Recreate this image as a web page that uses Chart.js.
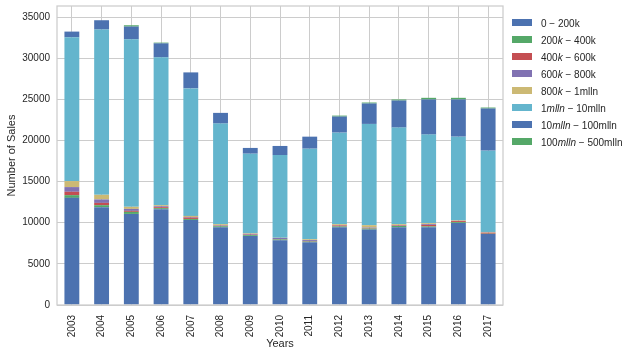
<!DOCTYPE html>
<html>
<head>
<meta charset="utf-8">
<script src="https://cdn.jsdelivr.net/npm/chart.js@4/dist/chart.umd.min.js"></script>
<style>
  html, body { margin: 0; padding: 0; background: #ffffff; }
  #wrap { position: relative; width: 640px; height: 356px; }
  #legend { position: absolute; left: 512px; top: 14px; font-family: "Liberation Sans", Arial, sans-serif; font-size: 10px; color: #262626; }
  .row { height: 17.06px; line-height: 17.06px; white-space: nowrap; position: relative; }
  .sw { position: absolute; left: 0; top: 4.5px; width: 20px; height: 7px; }
  .lt { position: absolute; left: 29px; top: 0.5px; }
</style>
</head>
<body>
<div id="wrap">
  <canvas id="c" width="640" height="356"></canvas>
  <div id="legend"></div>
</div>
<script>
const years = ["2003","2004","2005","2006","2007","2008","2009","2010","2011","2012","2013","2014","2015","2016","2017"];
const seriesNames = ["0 − 200k","200k − 400k","400k − 600k","600k − 800k","800k − 1mlln","1mlln − 10mlln","10mlln − 100mlln","100mlln − 500mlln"];
const s0to200k      = [13020, 11890, 11070, 11650, 10340, 9450, 8390, 7870, 7620, 9450, 9170, 9450, 9450, 9980, 8630];
const s200kto400k   = [330, 240, 250, 120, 120, 120, 100, 100, 90, 100, 120, 150, 100, 100, 30];
const s400kto600k   = [410, 280, 120, 120, 160, 60, 60, 40, 60, 120, 60, 60, 180, 120, 120];
const s600kto800k   = [570, 420, 240, 110, 80, 60, 100, 140, 120, 40, 60, 60, 100, 30, 30];
const s800kto1m     = [730, 560, 250, 130, 130, 130, 70, 20, 100, 110, 290, 100, 110, 70, 70];
const s1mto10m      = [17480, 20090, 20360, 17970, 15490, 12230, 9670, 10060, 11010, 11130, 12310, 11740, 10770, 10160, 9880];
const s10mto100m    = [690, 1130, 1550, 1700, 1950, 1300, 700, 1100, 1460, 1950, 2480, 3290, 4270, 4520, 5120];
const s100mto500m   = [0, 0, 160, 90, 0, 0, 0, 0, 0, 120, 120, 130, 200, 200, 120];
const yTicks = [0, 5000, 10000, 15000, 20000, 25000, 30000, 35000];

const allSeries = [s0to200k, s200kto400k, s400kto600k, s600kto800k, s800kto1m, s1mto10m, s10mto100m, s100mto500m];
const colors = ["#4C72B0","#55A868","#C44E52","#8172B2","#CCB974","#64B5CD","#4C72B0","#55A868"];

const datasets = allSeries.map((d, i) => ({
  label: seriesNames[i],
  data: d,
  backgroundColor: colors[i],
  borderWidth: 0,
  barPercentage: 0.5,
  categoryPercentage: 1.0
}));

const FONT = "'Liberation Sans', Arial, sans-serif";
const frame = {
  id: 'frame',
  afterDraw(chart) {
    const a = chart.chartArea, ctx = chart.ctx;
    ctx.save();
    ctx.strokeStyle = '#cccccc';
    ctx.lineWidth = 1.25;
    ctx.strokeRect(a.left, a.top, a.right - a.left, a.bottom - a.top);
    ctx.restore();
  }
};

new Chart(document.getElementById('c'), {
  type: 'bar',
  data: { labels: years, datasets },
  options: {
    responsive: false,
    devicePixelRatio: 1,
    animation: false,
    layout: { padding: { top: 6, right: 137, left: 0, bottom: 0 } },
    plugins: { legend: { display: false }, tooltip: { enabled: false } },
    scales: {
      x: {
        stacked: true,
        offset: true,
        grid: { offset: false, color: '#cccccc', lineWidth: 1, drawTicks: false },
        border: { display: false },
        ticks: { maxRotation: 90, minRotation: 90, padding: 10, color: '#262626', font: { family: FONT, size: 10 } },
        title: { display: true, text: 'Years', color: '#262626', font: { family: FONT, size: 11 }, padding: { top: 0, bottom: 5 } },
        afterFit(s) { s.height = 51; s.paddingLeft = 0; s.paddingRight = 0; }
      },
      y: {
        stacked: true,
        min: 0,
        max: 36340,
        grid: { color: '#cccccc', lineWidth: 1, drawTicks: false },
        border: { display: false },
        afterBuildTicks(s) { s.ticks = yTicks.map(v => ({ value: v })); },
        ticks: { padding: 7, color: '#262626', font: { family: FONT, size: 10 }, callback: v => String(v) },
        title: { display: true, text: 'Number of Sales', color: '#262626', font: { family: FONT, size: 11 }, padding: { top: 5, bottom: 0 } },
        afterFit(s) { s.width = 57; s.paddingTop = 0; s.paddingBottom = 0; }
      }
    }
  },
  plugins: [frame]
});

const leg = document.getElementById('legend');
seriesNames.forEach((name, i) => {
  const m = name.match(/^(\d+)([a-z]+)( − .*)$/);
  const html = m ? m[1] + '<i>' + m[2] + '</i>' + m[3] : name;
  const row = document.createElement('div');
  row.className = 'row';
  row.innerHTML = '<span class="sw" style="background:' + colors[i] + '"></span><span class="lt">' + html + '</span>';
  leg.appendChild(row);
});
</script>
</body>
</html>
